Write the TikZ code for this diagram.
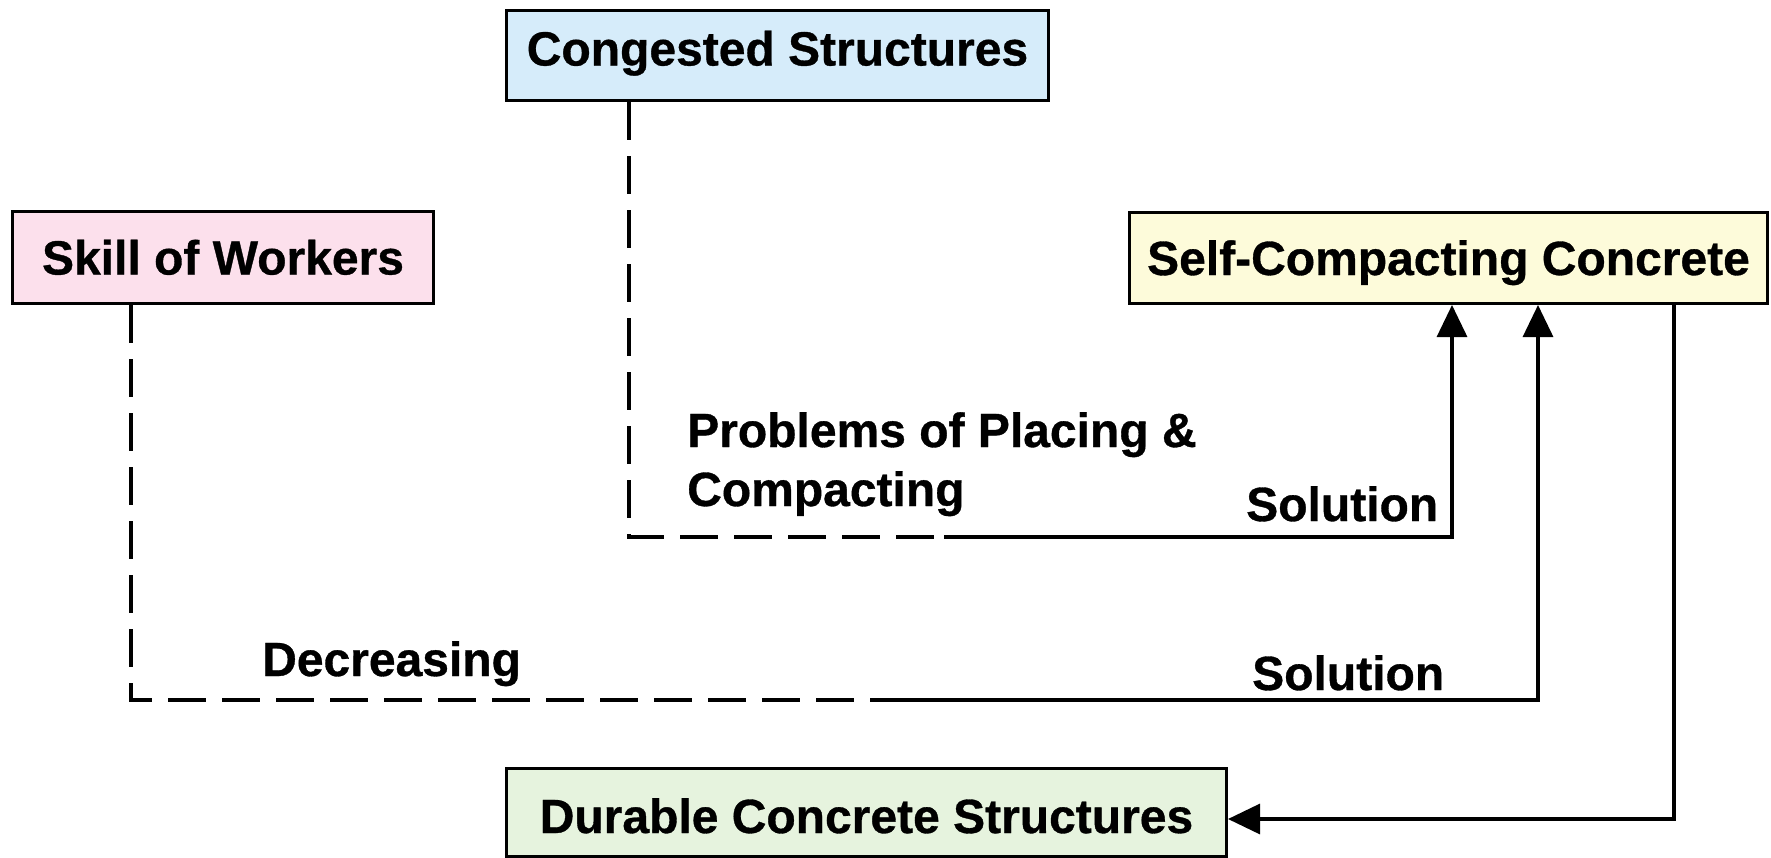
\documentclass[tikz,border=0pt]{standalone}
\usepackage{fontspec}
\setmainfont{Liberation Sans}[BoldFeatures={FakeBold=0.7}]
\usetikzlibrary{arrows.meta,calc}
\definecolor{cblue}{RGB}{214,236,250}
\definecolor{cpink}{RGB}{252,224,236}
\definecolor{cyellow}{RGB}{253,251,218}
\definecolor{cgreen}{RGB}{230,243,222}
\begin{document}
\begin{tikzpicture}[x=1bp,y=-1bp,
  txt/.style={font=\fontsize{48bp}{58bp}\selectfont\bfseries},
  box/.style={txt, draw=black, line width=3bp, inner sep=0pt, text height=34bp, text depth=0bp},
  conn/.style={draw=black, line width=3.2bp},
  dashline/.style={conn, dash pattern=on 38bp off 16bp},
  tip/.style={-{Triangle[length=32bp,width=30bp]}},
  lbl/.style={txt, inner sep=0pt, anchor=base west}]
\useasboundingbox (0,0) rectangle (1771,858);
\fill[white] (0,0) rectangle (1771,858);
% boxes
\node[box, fill=cblue, minimum width=542bp, minimum height=90bp, text depth=14bp] (cong) at (777.5,55.5) {Congested Structures};
\node[box, fill=cpink, minimum width=421bp, minimum height=92bp] (skill) at (223,257.5) {Skill of Workers};
\node[box, fill=cyellow, minimum width=638bp, minimum height=91bp] (scc) at (1448.5,258) {Self-Compacting Concrete};
\node[box, fill=cgreen, minimum width=720bp, minimum height=88bp, text height=41bp] (dur) at (866.5,812.5) {Durable Concrete Structures};
% labels
\node[lbl] (p1) at (687,447) {Problems of Placing \&};
\node[lbl] (p2) at (687,506) {Compacting};
\node[lbl] (s1) at (1246,521) {Solution};
\node[lbl] (s2) at (1252,690) {Solution};
\node[lbl] (dec) at (262,676) {Decreasing};
% coordinates
\coordinate (v1) at (629,537);
\coordinate (k1) at (944,537);
\coordinate (v2) at (131,700);
\coordinate (k2) at (876,700);
\coordinate (a1) at ($(scc.south)+(3.5,0)$);
\coordinate (a2) at ($(scc.south)+(89.5,0)$);
\coordinate (a3) at ($(scc.south)+(225.5,0)$);
\coordinate (d1) at ($(dur.east)+(0,6.5)$);
% connectors
\draw[dashline] (cong.south -| v1) -- (v1) -- (k1);
\draw[conn,tip] (k1) -| (a1);
\draw[dashline] (skill.south -| v2) -- (v2) -- (k2);
\draw[conn,tip] (k2) -| (a2);
\draw[conn,tip] (a3) |- (d1);
\end{tikzpicture}
\end{document}
